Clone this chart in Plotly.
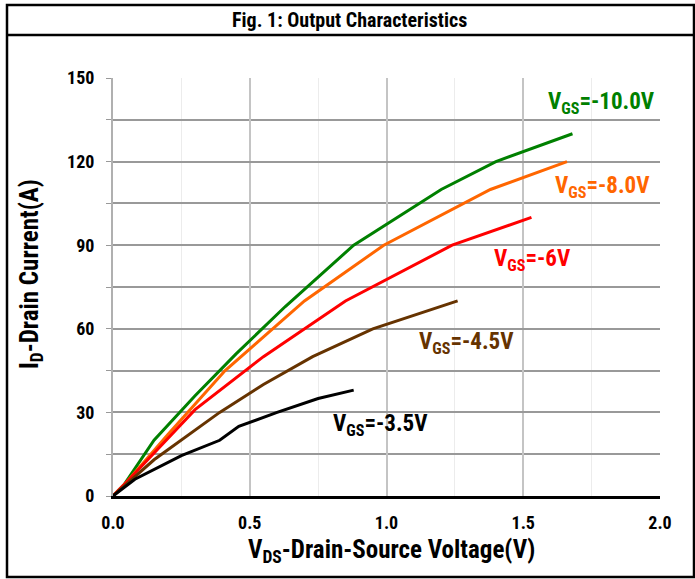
import plotly.graph_objects as go

# ---- data ----
vds_10 = [0, 0.04, 0.15, 0.30, 0.45, 0.63, 0.88, 1.20, 1.40, 1.68]
id_10 = [0, 4, 20, 36, 51, 68, 90, 110, 120, 130]

vds_8 = [0, 0.05, 0.20, 0.41, 0.70, 0.99, 1.38, 1.66]
id_8 = [0, 5, 22, 45, 70, 90, 110, 120]

vds_6 = [0, 0.05, 0.30, 0.55, 0.85, 1.24, 1.53]
id_6 = [0, 5, 31, 50, 70, 90, 100]

vds_45 = [0, 0.15, 0.39, 0.55, 0.73, 0.95, 1.26]
id_45 = [0, 13, 30, 40, 50, 60, 70]

vds_35 = [0, 0.08, 0.25, 0.39, 0.46, 0.60, 0.75, 0.88]
id_35 = [0, 6, 14.5, 20, 25, 30, 35, 38]

series_names = ["-10.0V", "-8.0V", "-6V", "-4.5V", "-3.5V"]
series_x = [vds_10, vds_8, vds_6, vds_45, vds_35]
series_y = [id_10, id_8, id_6, id_45, id_35]
colors = ["#008000", "#FF6600", "#FF0000", "#663300", "#000000"]
label_x = [1.786, 1.79, 1.533, 1.292, 0.979]
label_y = [141, 111, 84.7, 54.9, 25.5]

FONT = "Liberation Sans Narrow, Arial Narrow, Roboto Condensed, Liberation Sans, sans-serif"

fig = go.Figure()
for name, xs, ys, c in zip(series_names, series_x, series_y, colors):
    fig.add_trace(go.Scatter(x=xs, y=ys, mode="lines", name=name,
                             line=dict(color=c, width=3), showlegend=False))

annotations = []
for name, lx, ly, c in zip(series_names, label_x, label_y, colors):
    annotations.append(dict(x=lx, y=ly, xref="x", yref="y", showarrow=False,
                            xanchor="center", yanchor="middle",
                            text="<b>V<sub>GS</sub>=" + name + "</b>",
                            font=dict(family=FONT, size=23, color=c)))

annotations += [
    dict(x=0.433, y=1.1388, xref="paper", yref="paper", showarrow=False,
         xanchor="center", yanchor="middle",
         text="<b>Fig. 1: Output Characteristics</b>",
         font=dict(family=FONT, size=20, color="black")),
    dict(x=0.51, y=-0.1316, xref="paper", yref="paper", showarrow=False,
         xanchor="center", yanchor="middle",
         text="<b>V<sub>DS</sub>-Drain-Source Voltage(V)</b>",
         font=dict(family=FONT, size=25, color="black")),
    dict(x=-0.15, y=0.531, xref="paper", yref="paper", showarrow=False, textangle=-90,
         xanchor="center", yanchor="middle",
         text="<b>I<sub>D</sub>-Drain Current(A)</b>",
         font=dict(family=FONT, size=25, color="black")),
]

# frame shapes (paper coords)
def px_x(p):
    return (p - 113) / 547.0

def px_y(p):
    return (496 - p) / 418.0

shapes = [
    dict(type="rect", xref="paper", yref="paper", x0=px_x(7), x1=px_x(694),
         y0=px_y(577), y1=px_y(5), line=dict(color="black", width=2.5), layer="above"),
    dict(type="line", xref="paper", yref="paper", x0=px_x(7), x1=px_x(694),
         y0=px_y(35), y1=px_y(35), line=dict(color="black", width=2.5), layer="above"),
]

fig.update_layout(
    width=695, height=579,
    margin=dict(l=113, r=35, t=78, b=83),
    paper_bgcolor="white", plot_bgcolor="white",
    annotations=annotations, shapes=shapes,
    xaxis=dict(range=[0, 2.0], dtick=0.5, tick0=0, tickformat=".1f",
               showgrid=True, gridcolor="#c4c4c4", gridwidth=2,
               minor=dict(dtick=0.25, showgrid=True, gridcolor="#ececec", gridwidth=1),
               showline=True, linecolor="black", linewidth=2.5,
               ticks="", zeroline=False, ticklabelstandoff=9,
               tickfont=dict(family=FONT, size=18, color="black", weight="bold")),
    yaxis=dict(range=[0, 150], dtick=30, tick0=0,
               showgrid=True, gridcolor="#999999", gridwidth=2,
               minor=dict(dtick=15, showgrid=True, gridcolor="#999999", gridwidth=2,
                          ticks="outside", ticklen=5, tickcolor="#999999"),
               ticks="outside", ticklen=5, tickcolor="#999999",
               showline=True, linecolor="#b0b0b0", linewidth=2,
               zeroline=False, ticklabelstandoff=8,
               tickfont=dict(family=FONT, size=18, color="black", weight="bold")),
)

fig.write_html("out.html")
